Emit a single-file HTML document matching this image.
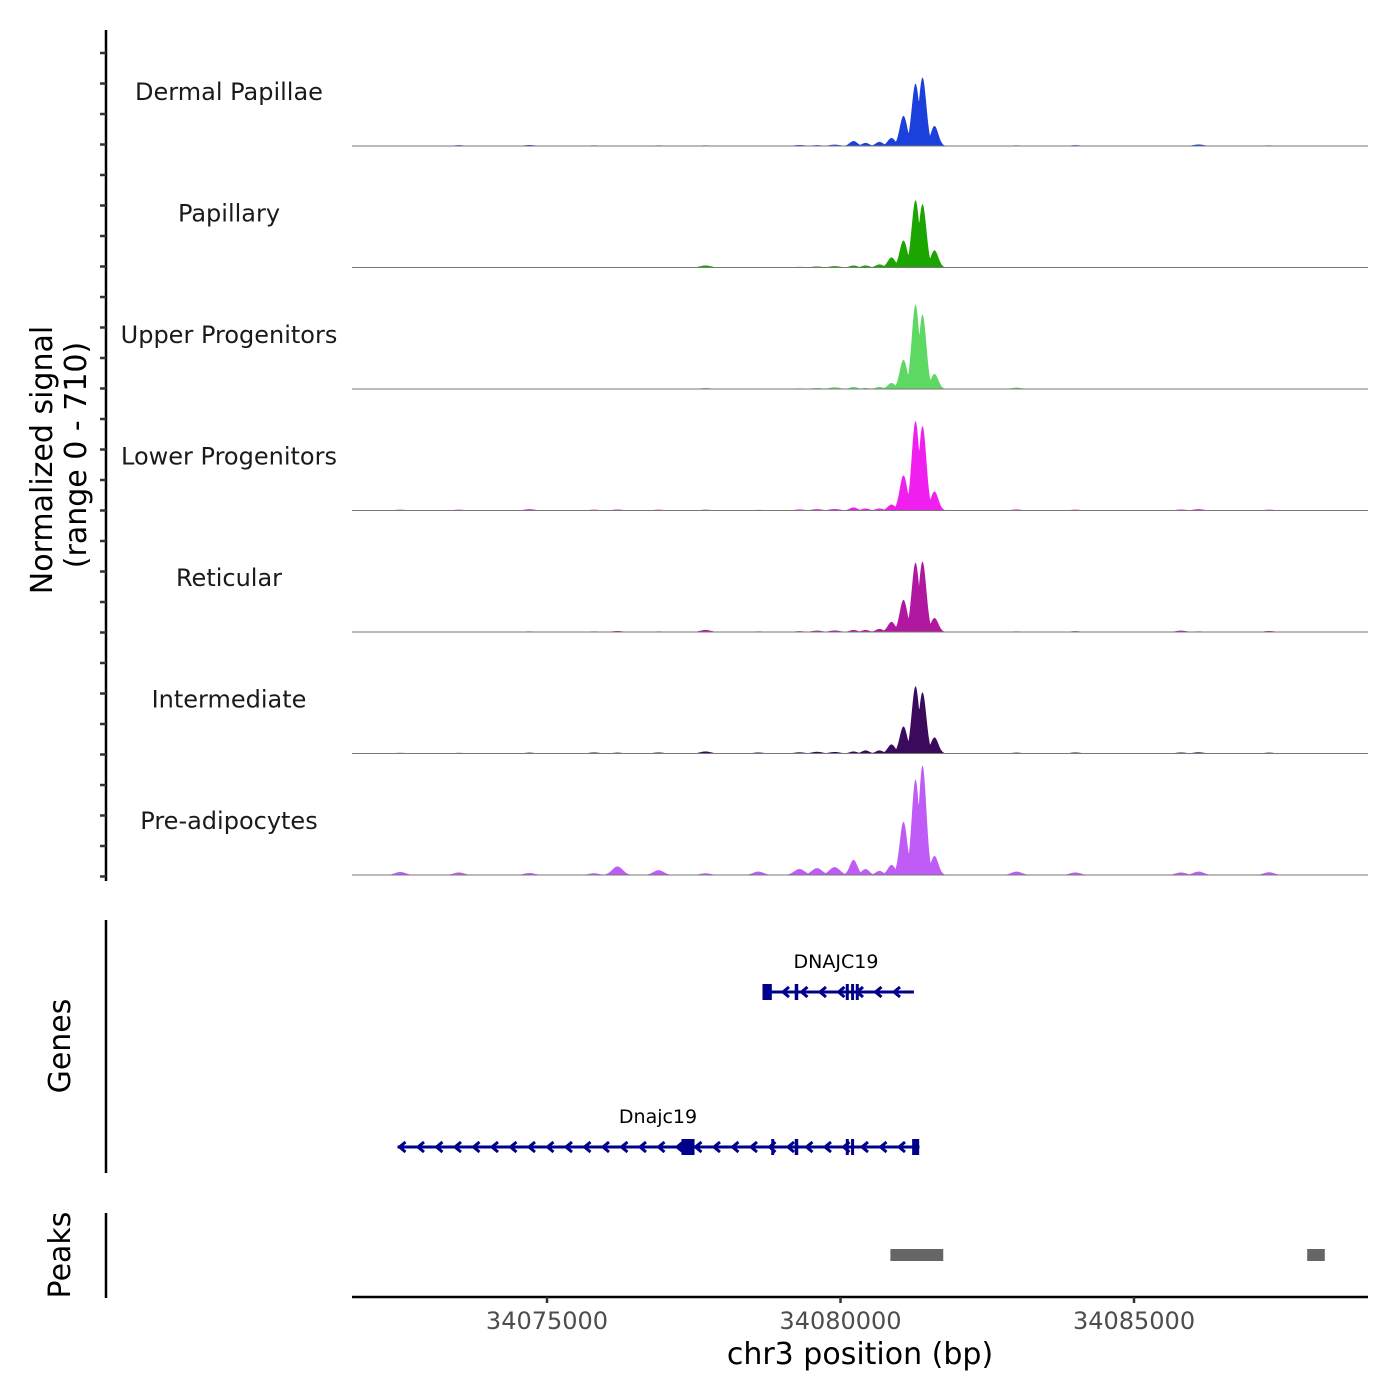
<!DOCTYPE html>
<html><head><meta charset="utf-8"><style>
body{margin:0;background:#fff}
svg{display:block;font-family:"DejaVu Sans","Liberation Sans",sans-serif}
</style></head><body>
<svg id="c" width="1400" height="1400" viewBox="0 0 1400 1400"></svg>
<script>
const trackNames=["Dermal Papillae","Papillary","Upper Progenitors","Lower Progenitors","Reticular","Intermediate","Pre-adipocytes"];
const trackColors=["#1b40dc","#1aa500","#5dd862","#f01ff0","#b0189f","#3b0a5d","#c05cf6"];
const peakPos=[34080222,34080426,34080664,34080869,34081073,34081278,34081397,34081601];
const peakVals=[
[29,18,24,47,176,364,400,117],
[12,12,18,59,158,393,370,100],
[12,6,12,35,170,493,434,88],
[18,12,12,35,205,522,493,111],
[12,12,18,59,188,405,411,82],
[12,18,18,53,158,393,358,94],
[88,35,24,59,311,558,640,111]];
const bumpPos=[34072500,34073500,34074700,34075800,34076200,34076900,34077700,34078600,34079300,34079600,34079900,34083000,34084000,34085800,34086100,34087300];
const bumpVals=[
[3,5,6,4,3,4,4,3,6,5,8,4,5,3,9,4],
[2,2,3,3,2,3,12,3,4,6,8,3,3,3,3,2],
[3,2,3,2,3,2,6,3,4,6,10,8,3,2,3,3],
[5,5,8,5,6,5,5,4,6,8,9,6,5,6,8,5],
[3,3,4,4,6,4,12,4,5,8,9,4,5,8,4,6],
[4,4,5,6,5,6,12,6,7,10,9,5,6,6,7,5],
[18,15,12,10,50,28,10,20,35,40,46,20,15,15,20,16]];
const xTicks=[34075000,34080000,34085000];
const genes=[{name:"DNAJC19",start:34078671,end:34081250,y:992,exons:[[34078671,34078830],[34079220,34079280],[34080090,34080130],[34080180,34080230],[34080260,34080300]]},
{name:"Dnajc19",start:34072453,end:34081346,y:1147,exons:[[34077291,34077513],[34078820,34078870],[34079220,34079280],[34080090,34080130],[34080180,34080230],[34081220,34081340]]}];
const peakRegions=[[34080850,34081750],[34087950,34088250]];

const NS="http://www.w3.org/2000/svg";
const svg=document.getElementById('c');
const X0=34071678,X1=34088986,PX0=352,PX1=1368;
const xs=b=>PX0+(b-X0)/(X1-X0)*(PX1-PX0);
const TH=121.5,YMAX=710;
function mk(t,a,p){const e=document.createElementNS(NS,t);for(const k in a)e.setAttribute(k,a[k]);(p||svg).appendChild(e);return e;}
function txt(s,a,p){const e=mk('text',a,p);e.textContent=s;return e;}

let ax=mk('line',{x1:106,y1:30,x2:106,y2:881,stroke:'#000','stroke-width':2.5});


for(let y=53;y<=880;y+=30.5){const t=mk('line',{x1:100,y1:y,x2:106,y2:y,stroke:'#333','stroke-width':2.5});

}
let yl=txt('Normalized signal',{x:0,y:0,transform:'translate(52,460) rotate(-90)','text-anchor':'middle','font-size':30,fill:'#000'});


let yl2=txt('(range 0 - 710)',{x:0,y:0,transform:'translate(86,455) rotate(-90)','text-anchor':'middle','font-size':30,fill:'#000'});



trackNames.forEach((nm,i)=>{
 const base=146+i*121.5;
 const g=mk('g',{});
 
 
 const feats=[];
 peakPos.forEach((p,j)=>feats.push([p,peakVals[i][j],65]));
 bumpPos.forEach((p,j)=>feats.push([p,bumpVals[i][j],90]));
 let d=`M${PX0},${base}`;
 for(let px=PX0;px<=PX1;px+=0.5){
  const b=X0+(px-PX0)/(PX1-PX0)*(X1-X0);
  let v=0;feats.forEach(f=>{const z=(b-f[0])/f[2];v=Math.max(v,f[1]*Math.exp(-z*z/2));});
  d+=`L${px},${(base-v/YMAX*TH).toFixed(2)}`;
 }
 d+=`L${PX1},${base}Z`;
 const a=mk('path',{d:d,fill:trackColors[i]},g);
 
 
 mk('line',{x1:PX0,y1:base,x2:PX1,y2:base,stroke:'#777','stroke-width':1},g);
 const l=txt(nm,{x:229,y:base-46,'text-anchor':'middle','font-size':24,fill:'#1a1a1a'},g);
 
 
});

let ga=mk('line',{x1:106,y1:920,x2:106,y2:1173,stroke:'#000','stroke-width':2.5});


let gt=txt('Genes',{x:0,y:0,transform:'translate(70,1046) rotate(-90)','text-anchor':'middle','font-size':30});


const GC='#00008b';
genes.forEach(gn=>{
 const g=mk('g',{});
 
 
 const x1=xs(gn.start),x2=xs(gn.end),y=gn.y;
 mk('line',{x1:x1,y1:y,x2:x2,y2:y,stroke:GC,'stroke-width':3},g);
 for(let x=x1+2;x<x2-4;x+=18.5){mk('polyline',{points:`${x+6},${y-5} ${x},${y} ${x+6},${y+5}`,fill:'none',stroke:GC,'stroke-width':3},g);}
 gn.exons.forEach(e=>{const a=xs(e[0]),b=xs(e[1]);mk('rect',{x:a,y:y-8,width:Math.max(b-a,3),height:16,fill:GC},g);});
 const l=txt(gn.name,{x:gn.name==='Dnajc19'?658:836,y:y-24,'text-anchor':'middle','font-size':19},g);
 
 
});

let pa=mk('line',{x1:106,y1:1213,x2:106,y2:1298,stroke:'#000','stroke-width':2.5});


let pt=txt('Peaks',{x:0,y:0,transform:'translate(70,1255) rotate(-90)','text-anchor':'middle','font-size':30});


peakRegions.forEach(r=>{const a=xs(r[0]),b=xs(r[1]);const e=mk('rect',{x:a,y:1249,width:b-a,height:12,fill:'#666'});

});

let xa=mk('line',{x1:PX0,y1:1297,x2:PX1,y2:1297,stroke:'#000','stroke-width':2.5});


xTicks.forEach(t=>{const x=xs(t);const tk=mk('line',{x1:x,y1:1297,x2:x,y2:1303,stroke:'#333','stroke-width':2.5});


const l=txt(String(t),{x:x,y:1329,'text-anchor':'middle','font-size':24,fill:'#4d4d4d'});

});
let xt=txt('chr3 position (bp)',{x:860,y:1364,'text-anchor':'middle','font-size':30});


</script>
</body></html>
